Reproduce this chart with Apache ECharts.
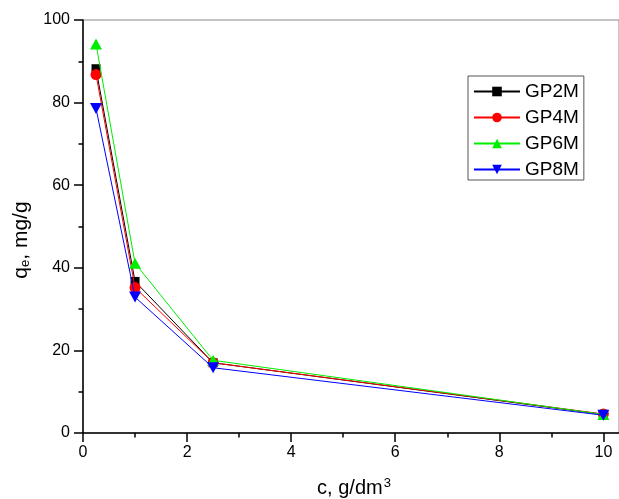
<!DOCTYPE html>
<html>
<head>
<meta charset="utf-8">
<script src="https://cdn.jsdelivr.net/npm/echarts@6/dist/echarts.min.js"></script>
<style>
  html, body { margin: 0; padding: 0; background: #fff; }
  #chart { width: 619px; height: 499px; }
</style>
</head>
<body>
<div id="chart"></div>
<script>
// Adsorbent dose (g/dm3) and equilibrium uptake (mg/g) for the four samples
const dose = [0.25, 1, 2.5, 10];
const gp2m = [88.2, 36.7, 17.0, 4.5];
const gp4m = [86.8, 35.2, 17.0, 4.6];
const gp6m = [94.2, 41.1, 17.6, 4.5];
const gp8m = [78.6, 32.9, 15.8, 4.3];

const seriesNames = ['GP2M', 'GP4M', 'GP6M', 'GP8M'];
const seriesValues = [gp2m, gp4m, gp6m, gp8m];
const seriesColors = ['#000000', '#ff0000', '#00ee00', '#0000ff'];
const seriesSymbols = ['rect', 'circle', 'triangle', 'path://M0,0 L10,0 L5,9 Z'];
const symbolSizes = [9, 11, [12, 11], [12, 11]];

const xTicks = [0, 2, 4, 6, 8, 10];
const xMinorTicks = [1, 3, 5, 7, 9];
const yTicks = [0, 20, 40, 60, 80, 100];
const yMinorTicks = [10, 30, 50, 70, 90];

const X_MAX = 10.3;
const FONT = '"Liberation Sans", Arial, sans-serif';
const AXIS_BLACK = { color: '#000', width: 1.5 };

const chart = echarts.init(document.getElementById('chart'), null, { renderer: 'canvas' });

chart.setOption({
  animation: false,
  backgroundColor: '#ffffff',
  grid: {
    left: 83, top: 20, bottom: 66, right: 0,
    outerBoundsMode: 'none',
    show: true, borderColor: '#8a8a8a', borderWidth: 1, backgroundColor: 'transparent'
  },
  legend: {
    left: 468, top: 76, orient: 'vertical',
    data: seriesNames,
    itemWidth: 46, itemHeight: 12, itemGap: 7,
    padding: [6, 5, 1, 5],
    borderColor: '#555', borderWidth: 1,
    textStyle: { fontFamily: FONT, fontSize: 19, color: '#000', lineHeight: 18 }
  },
  xAxis: [
    {
      type: 'value', min: 0, max: X_MAX,
      name: '{a|c, g/dm}{sup|3}', nameLocation: 'middle', nameGap: 44,
      nameTextStyle: {
        padding: [0, 0, 0, 6],
        rich: {
          a: { fontFamily: FONT, fontSize: 20, color: '#000' },
          sup: { fontFamily: FONT, fontSize: 13, color: '#000', verticalAlign: 'top', padding: [0, 0, 10, 1] }
        }
      },
      axisLine: { onZero: false, lineStyle: AXIS_BLACK },
      axisTick: { inside: false, length: 9, customValues: xTicks, lineStyle: AXIS_BLACK },
      axisLabel: { margin: 12, fontFamily: FONT, fontSize: 16, color: '#000', customValues: xTicks },
      splitLine: { show: false }
    },
    {
      // minor ticks between the labelled ones
      type: 'value', min: 0, max: X_MAX, position: 'bottom',
      axisLine: { show: false },
      axisTick: { inside: false, length: 4.5, customValues: xMinorTicks, lineStyle: AXIS_BLACK },
      axisLabel: { show: false },
      splitLine: { show: false }
    }
  ],
  yAxis: [
    {
      type: 'value', min: 0, max: 100, interval: 20,
      name: '{a|q}{sub|e}{a|, mg/g}', nameLocation: 'middle', nameGap: 49,
      nameTextStyle: {
        padding: [0, 27, 0, 0],
        rich: {
          a: { fontFamily: FONT, fontSize: 21, color: '#000' },
          sub: { fontFamily: FONT, fontSize: 13, color: '#000', verticalAlign: 'bottom', padding: [9, 0, 0, 0] }
        }
      },
      axisLine: { onZero: false, lineStyle: AXIS_BLACK },
      axisTick: { inside: false, length: 9, customValues: yTicks, lineStyle: AXIS_BLACK },
      axisLabel: { margin: 13, fontFamily: FONT, fontSize: 16, color: '#000', customValues: yTicks },
      splitLine: { show: false }
    },
    {
      type: 'value', min: 0, max: 100, position: 'left',
      axisLine: { show: false },
      axisTick: { inside: false, length: 4.5, customValues: yMinorTicks, lineStyle: AXIS_BLACK },
      axisLabel: { show: false },
      splitLine: { show: false }
    }
  ],
  series: seriesNames.map((name, i) => ({
    name: name,
    type: 'line',
    data: dose.map((x, j) => [x, seriesValues[i][j]]),
    symbol: seriesSymbols[i],
    symbolSize: symbolSizes[i],
    showAllSymbol: true,
    lineStyle: { color: seriesColors[i], width: 1 },
    itemStyle: { color: seriesColors[i] },
    emphasis: { disabled: true },
    z: 2 + i
  }))
});
</script>
</body>
</html>
